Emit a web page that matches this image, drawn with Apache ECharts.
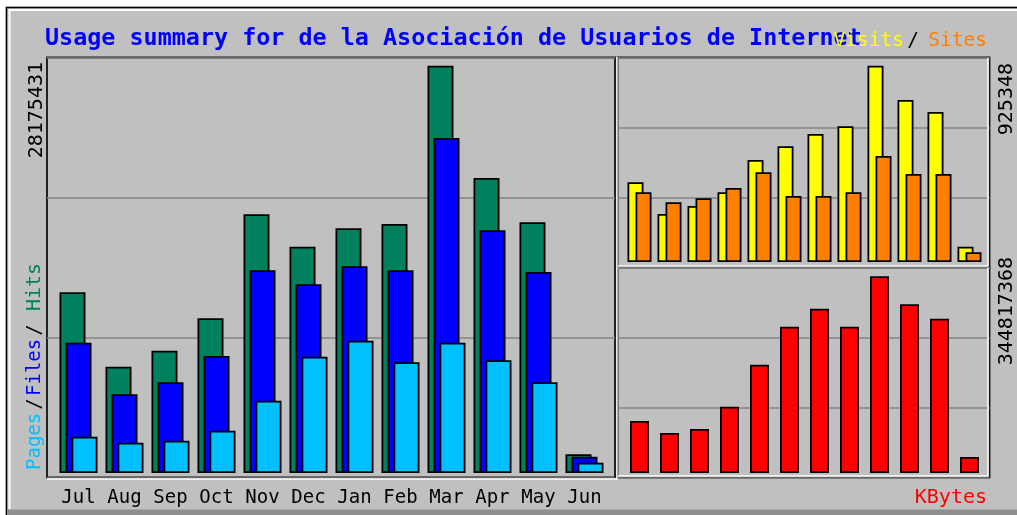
<!DOCTYPE html>
<html>
<head>
<meta charset="utf-8">
<script src="https://cdn.jsdelivr.net/npm/echarts@6/dist/echarts.min.js"></script>
<style>
html, body { margin: 0; padding: 0; background: #fff; }
#chart { width: 1017px; height: 515px; }
</style>
</head>
<body>
<div id="chart"></div>
<script>
const months = ['Jul', 'Aug', 'Sep', 'Oct', 'Nov', 'Dec', 'Jan', 'Feb', 'Mar', 'Apr', 'May', 'Jun'];
const hits   = [12500000, 7353000, 8460000, 10702000, 17896000, 15655000, 16927000, 17225000, 28175431, 20407000, 17343000, 1294000];
const files  = [9014000, 5444000, 6274000, 8094000, 14022000, 13054000, 14299000, 14022000, 23174000, 16789000, 13904000, 1128000];
const pages  = [2511000, 2096000, 2234000, 2926000, 5001000, 8045000, 9152000, 7658000, 9014000, 7796000, 6274000, 713000];
const visits = [375700, 226300, 264000, 328600, 480800, 545400, 603400, 639700, 925348, 763700, 707100, 72100];
const sites  = [328600, 281400, 300300, 348800, 422800, 311100, 311100, 328600, 499700, 414800, 414800, 45700];
const kbytes = [91157000, 70120000, 77132000, 116225000, 189851000, 256465000, 288020000, 256465000, 344817368, 295733000, 270490000, 28048000];
const hitsMaxLabel = '28175431';
const visitsMaxLabel = '925348';
const kbytesMaxLabel = '344817368';

const FONT = '"DejaVu Sans Mono", monospace';
const chart = echarts.init(document.getElementById('chart'));

// frame grids only draw the panel box and the two grey lines (3 equal bands)
function frameX(i) {
  return { gridIndex: i, type: 'value', min: 0, max: 1, show: false };
}
function frameY(i) {
  return {
    gridIndex: i, type: 'value', min: 0, max: 3, interval: 1,
    axisLine: { show: false }, axisTick: { show: false }, axisLabel: { show: false },
    splitLine: { lineStyle: { color: '#858585', width: 1.5 } }
  };
}
// data grids: tallest bar stops a few px under the top like webalizer does
function dataY(i, maxVal, gridPx, barPx) {
  return {
    gridIndex: i, type: 'value', min: 0, max: maxVal * gridPx / barPx,
    show: false, splitLine: { show: false }
  };
}
function dataX(i, showLabels) {
  return {
    gridIndex: i, type: 'category', data: months,
    axisLine: { show: false }, axisTick: { show: false }, splitLine: { show: false },
    axisLabel: {
      show: showLabels, color: '#000', fontFamily: FONT, fontSize: 19,
      margin: 25, verticalAlign: 'middle', interval: 0
    }
  };
}
function bars(name, data, color, xi, width, gap) {
  return {
    name: name, type: 'bar', data: data, xAxisIndex: xi, yAxisIndex: xi,
    barWidth: width, barGap: gap, animation: false, silent: true,
    itemStyle: { color: color, borderColor: '#000', borderWidth: 1.8 }
  };
}
function text(t, x, y, color, size, align, opts) {
  return Object.assign({
    type: 'text', x: x, y: y, z: 50,
    style: {
      text: t, fill: color, font: size + 'px ' + FONT,
      textAlign: align, align: align, textVerticalAlign: 'middle', verticalAlign: 'middle'
    }
  }, opts || {});
}
function vtext(t, x, y, color, size, align) {
  return text(t, x, y, color, size, align, { rotation: Math.PI / 2 });
}
function line(pts, color, w) {
  return { type: 'polyline', z: 40, shape: { points: pts }, style: { stroke: color, lineWidth: w, fill: null } };
}

const title = 'Usage summary for de la Asociación de Usuarios de Internet';

const option = {
  backgroundColor: '#c0c0c0',
  animation: false,
  grid: [
    { left: 55.5, top: 58, width: 552, height: 415 },
    { left: 624.5, top: 58, width: 360, height: 204 },
    { left: 624.5, top: 268, width: 360, height: 205 },
    { left: 47, top: 57.5, width: 568, height: 420, show: true, borderColor: '#111', borderWidth: 1.8, backgroundColor: 'transparent' },
    { left: 617.5, top: 57.5, width: 372, height: 210, show: true, borderColor: '#111', borderWidth: 1.8, backgroundColor: 'transparent' },
    { left: 617.5, top: 267.5, width: 372, height: 210, show: true, borderColor: '#111', borderWidth: 1.8, backgroundColor: 'transparent' }
  ],
  xAxis: [dataX(0, true), dataX(1, false), dataX(2, false), frameX(3), frameX(4), frameX(5)],
  yAxis: [
    dataY(0, Math.max(...hits), 415, 407.3),
    dataY(1, Math.max(...visits), 204, 196.3),
    dataY(2, Math.max(...kbytes), 205, 196.7),
    frameY(3), frameY(4), frameY(5)
  ],
  series: [
    bars('Hits', hits, '#00805c', 0, 26, '-76.9%'),
    bars('Files', files, '#0000ff', 0, 26, '-76.9%'),
    bars('Pages', pages, '#00c0ff', 0, 26, '-76.9%'),
    bars('Visits', visits, '#ffff00', 1, 16, '-50%'),
    bars('Sites', sites, '#ff8000', 1, 16, '-50%'),
    bars('KBytes', kbytes, '#ff0000', 2, 19, '0%')
  ],
  graphic: [
    // outer picture edge: white margin, black line, light bevel, dark bottom
    { type: 'rect', z: 30, shape: { x: 0, y: 0, width: 1017, height: 6.5 }, style: { fill: '#fff' } },
    { type: 'rect', z: 30, shape: { x: 0, y: 0, width: 5.5, height: 515 }, style: { fill: '#fff' } },
    { type: 'rect', z: 30, shape: { x: 8, y: 509.5, width: 1009, height: 6 }, style: { fill: '#8f8f8f' } },
    line([[6.5, 515], [6.5, 7.5], [1017, 7.5]], '#000', 1.5),
    line([[9.5, 509], [9.5, 10], [1017, 10]], '#fff', 2),
    // white bevel on bottom/right of the panels
    line([[47, 479], [616.9, 479], [616.9, 57]], '#fff', 1.5),
    line([[618, 266], [988, 266], [988, 58]], '#fff', 1.5),
    line([[618, 476], [988, 476], [988, 268]], '#fff', 1.5),
    // texts
    text(title, 45, 38.5, '#0000ff', 23.4, 'left', {
      style: { text: title, fill: '#0000ff', font: 'bold 23.4px ' + FONT,
        textAlign: 'left', align: 'left', textVerticalAlign: 'middle', verticalAlign: 'middle' }
    }),
    text('Visits', 904, 41, '#ffff00', 19.5, 'right'),
    text('/', 913, 41, '#000', 19.5, 'center'),
    text('Sites', 987, 41, '#ff8000', 19.5, 'right'),
    text('KBytes', 987, 497.5, '#ff0000', 20, 'right'),
    vtext('Pages', 35, 470, '#00c0ff', 19, 'left'),
    vtext('/', 35, 404, '#000', 19, 'center'),
    vtext('Files', 35, 396, '#0000ff', 19, 'left'),
    vtext('/', 35, 330, '#000', 19, 'center'),
    vtext('Hits', 35, 311, '#00805c', 20, 'left'),
    vtext(hitsMaxLabel, 36.5, 62, '#000', 20, 'right'),
    vtext(visitsMaxLabel, 1007, 63, '#000', 20, 'right'),
    vtext(kbytesMaxLabel, 1007, 257, '#000', 20, 'right')
  ]
};
chart.setOption(option);
</script>
</body>
</html>
